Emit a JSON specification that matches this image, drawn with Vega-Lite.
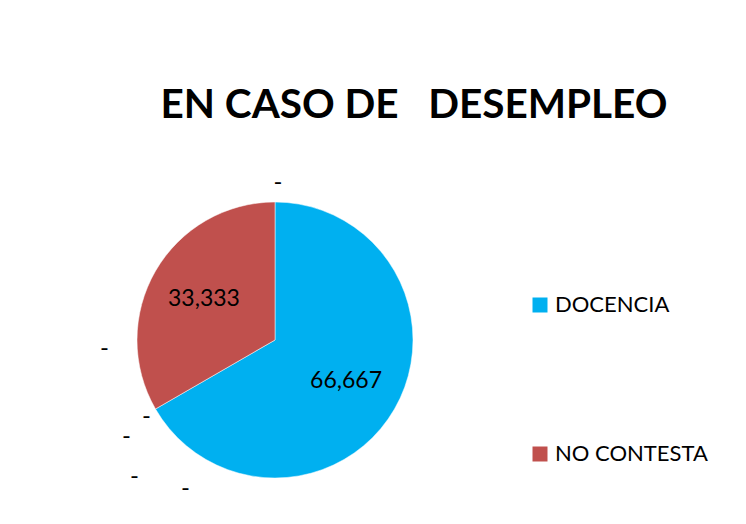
{
  "$schema": "https://vega.github.io/schema/vega-lite/v6.json",
  "width": 550,
  "height": 368,
  "autosize": {"type": "none"},
  "padding": {"left": 0, "top": 156, "right": 196, "bottom": 0},
  "background": "white",
  "config": {
    "view": {"stroke": null},
    "font": "Lato",
    "locale": {"number": {"decimal": ",", "thousands": ".", "grouping": [3], "currency": ["", " €"]}}
  },
  "title": {
    "text": "EN CASO DE\u00a0\u00a0 DESEMPLEO",
    "font": "Lato",
    "fontSize": 40.5,
    "fontWeight": "bold",
    "color": "#000000",
    "anchor": "middle",
    "baseline": "alphabetic",
    "offset": -2,
    "dx": 139
  },
  "data": {
    "values": [
      {"categoria": "DOCENCIA", "valor": 66.667, "idx": 1},
      {"categoria": "OPCIÓN 1", "valor": 0, "idx": 2},
      {"categoria": "OPCIÓN 2", "valor": 0, "idx": 3},
      {"categoria": "OPCIÓN 3", "valor": 0, "idx": 4},
      {"categoria": "OPCIÓN 4", "valor": 0, "idx": 5},
      {"categoria": "OPCIÓN 5", "valor": 0, "idx": 6},
      {"categoria": "NO CONTESTA", "valor": 33.333, "idx": 7},
      {"categoria": "OPCIÓN 6", "valor": 0, "idx": 8}
    ]
  },
  "transform": [
    {"stack": "valor", "groupby": [], "sort": [{"field": "idx", "order": "ascending"}], "as": ["v0", "v1"]}
  ],
  "layer": [
    {
      "transform": [{"filter": "datum.valor > 0"}],
      "mark": {"type": "arc", "outerRadius": 138, "stroke": "white", "strokeWidth": 0.5},
      "encoding": {
        "theta": {"field": "v0", "type": "quantitative", "scale": {"domain": [0, 100]}},
        "theta2": {"field": "v1"},
        "color": {
          "field": "categoria",
          "type": "nominal",
          "scale": {"domain": ["DOCENCIA", "NO CONTESTA"], "range": ["#00B0F0", "#C0504D"]},
          "legend": {
            "title": null,
            "orient": "none",
            "legendX": 529,
            "legendY": 138,
            "padding": 0,
            "symbolType": "square",
            "symbolSize": 225,
            "symbolStrokeWidth": 0,
            "labelFontSize": 22,
            "labelFont": "Lato",
            "labelColor": "#000000",
            "labelOffset": 4,
            "rowPadding": 127,
            "direction": "vertical"
          }
        }
      }
    },
    {
      "transform": [{"filter": "datum.valor > 0"}, {"calculate": "(datum.v0 + datum.v1) / 2", "as": "vm"}],
      "mark": {"type": "text", "radius": 82, "fontSize": 23, "font": "Lato", "color": "#000000", "align": "center", "baseline": "middle"},
      "encoding": {
        "theta": {"field": "vm", "type": "quantitative"},
        "text": {"field": "valor", "type": "quantitative", "format": ".3f"}
      }
    },
    {
      "transform": [{"filter": "datum.categoria == 'OPCIÓN 1'"}],
      "mark": {"type": "text", "radius": 138, "fontSize": 24, "font": "Lato", "color": "#000000", "align": "center", "baseline": "middle", "dx": -51, "dy": -60},
      "encoding": {"theta": {"field": "v1", "type": "quantitative"}, "text": {"value": "-"}}
    },
    {
      "transform": [{"filter": "datum.categoria == 'OPCIÓN 2'"}],
      "mark": {"type": "text", "radius": 138, "fontSize": 24, "font": "Lato", "color": "#000000", "align": "center", "baseline": "middle", "dx": -9, "dy": 8},
      "encoding": {"theta": {"field": "v1", "type": "quantitative"}, "text": {"value": "-"}}
    },
    {
      "transform": [{"filter": "datum.categoria == 'OPCIÓN 3'"}],
      "mark": {"type": "text", "radius": 138, "fontSize": 24, "font": "Lato", "color": "#000000", "align": "center", "baseline": "middle", "dx": -29, "dy": 28},
      "encoding": {"theta": {"field": "v1", "type": "quantitative"}, "text": {"value": "-"}}
    },
    {
      "transform": [{"filter": "datum.categoria == 'OPCIÓN 4'"}],
      "mark": {"type": "text", "radius": 138, "fontSize": 24, "font": "Lato", "color": "#000000", "align": "center", "baseline": "middle", "dx": -21, "dy": 68},
      "encoding": {"theta": {"field": "v1", "type": "quantitative"}, "text": {"value": "-"}}
    },
    {
      "transform": [{"filter": "datum.categoria == 'OPCIÓN 5'"}],
      "mark": {"type": "text", "radius": 138, "fontSize": 24, "font": "Lato", "color": "#000000", "align": "center", "baseline": "middle", "dx": 30, "dy": 80},
      "encoding": {"theta": {"field": "v1", "type": "quantitative"}, "text": {"value": "-"}}
    },
    {
      "transform": [{"filter": "datum.categoria == 'OPCIÓN 6'"}],
      "mark": {"type": "text", "radius": 138, "fontSize": 24, "font": "Lato", "color": "#000000", "align": "center", "baseline": "middle", "dx": 3, "dy": -19},
      "encoding": {"theta": {"field": "v1", "type": "quantitative"}, "text": {"value": "-"}}
    }
  ]
}
